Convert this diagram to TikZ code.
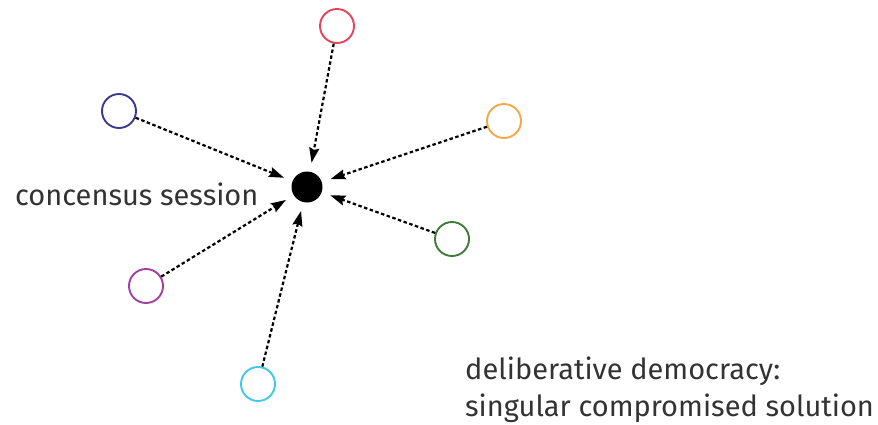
\documentclass[tikz,border=0pt]{standalone}
\usepackage{fontspec}
\setmainfont{Fira Sans}
\usetikzlibrary{arrows.meta}
\definecolor{cred}{HTML}{E8435A}
\definecolor{cnavy}{HTML}{3B3B8A}
\definecolor{corange}{HTML}{F5A742}
\definecolor{cgreen}{HTML}{3E7A3A}
\definecolor{cpurple}{HTML}{A040A0}
\definecolor{ccyan}{HTML}{3FC8EE}
\definecolor{ctext}{HTML}{333333}
\begin{document}
\begin{tikzpicture}[x=1pt,y=-1pt,
  member/.style={circle,draw=#1,line width=1.9pt,minimum size=34pt,inner sep=0pt},
  hub/.style={circle,fill=black,minimum size=31pt,inner sep=0pt},
  vote/.style={dash pattern=on 3.5pt off 2.5pt,line width=2.2pt,
     -{Stealth[length=15pt,width=10pt,inset=2pt]},shorten >=9pt},
  lbl/.style={text=ctext,font=\fontsize{29}{37}\selectfont,inner sep=0pt}]
\useasboundingbox (0,0) rectangle (878,424);
\node[hub] (c) at (307,187) {};
\node[member=cred] (r) at (337,26) {};
\node[member=cnavy] (n) at (119,111) {};
\node[member=corange] (o) at (504,121) {};
\node[member=cgreen] (g) at (452,239) {};
\node[member=cpurple] (p) at (146,286) {};
\node[member=ccyan] (b) at (258,384) {};
\draw[vote] (r) -- (c);
\draw[vote] (n) -- (c);
\draw[vote] (o) -- (c);
\draw[vote] (g) -- (c);
\draw[vote] (p) -- (c);
\draw[vote] (b) -- (c);
\node[lbl,anchor=base west] (t1) at (15,205) {concensus session};
\node[lbl,anchor=base west,align=left] (t2) at (465,416) {deliberative democracy:\\singular compromised solution};
\end{tikzpicture}
\end{document}
